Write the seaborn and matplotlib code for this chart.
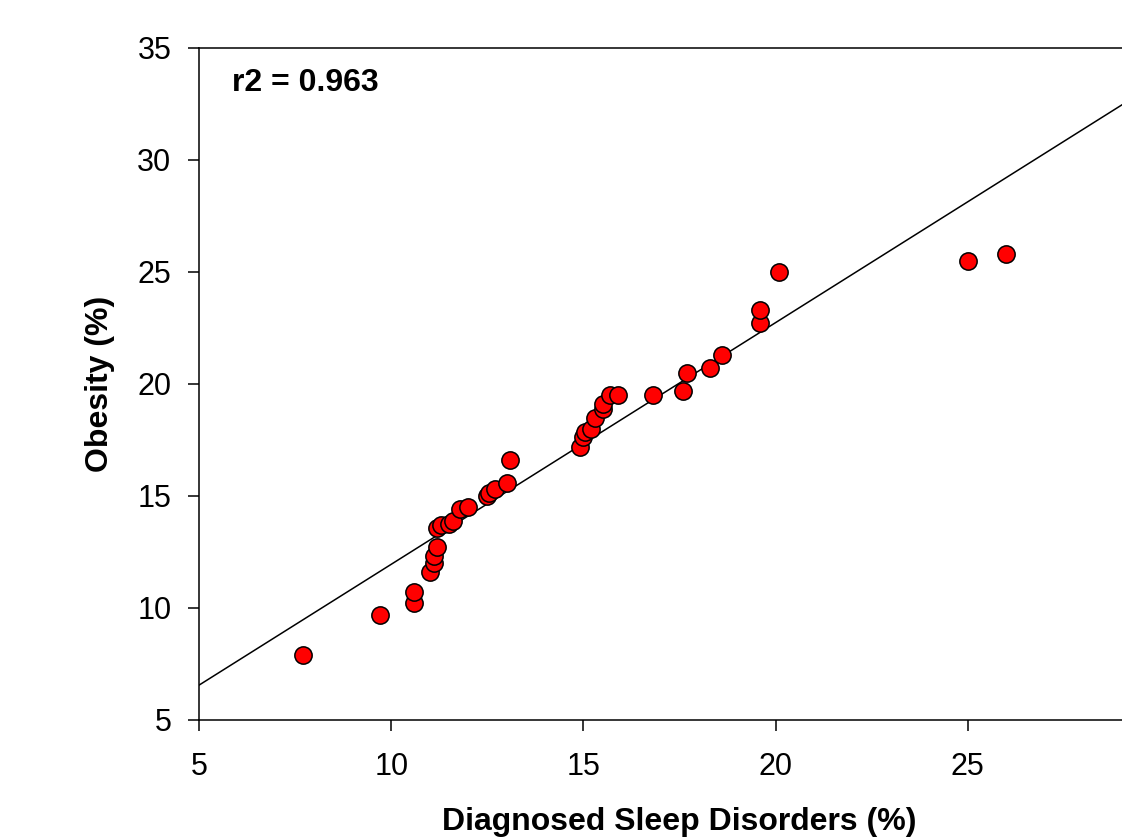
import matplotlib
matplotlib.use("Agg")
import matplotlib.pyplot as plt
import numpy as np
import pandas as pd
import seaborn as sns

sns.set_style("ticks")
plt.rcParams["font.family"] = ["Liberation Sans", "DejaVu Sans"]
plt.rcParams["text.color"] = "black"
plt.rcParams["axes.labelcolor"] = "black"
plt.rcParams["xtick.color"] = "black"
plt.rcParams["ytick.color"] = "black"

# Diagnosed sleep disorders (%) vs obesity (%)
sleep_disorders = [7.7, 9.7, 10.6, 10.6, 11.0, 11.1, 11.1, 11.2, 11.2, 11.3, 11.5, 11.6,
                   11.8, 12.0, 12.5, 12.55, 12.7, 13.0, 13.1, 14.9, 15.0, 15.05, 15.2,
                   15.3, 15.5, 15.5, 15.7, 15.9, 16.8, 17.6, 17.7, 18.3, 18.6, 19.6,
                   19.6, 20.1, 25.0, 26.0]
obesity = [7.9, 9.7, 10.2, 10.7, 11.6, 12.0, 12.3, 12.7, 13.55, 13.7, 13.75, 13.9,
           14.4, 14.5, 15.0, 15.15, 15.3, 15.6, 16.6, 17.2, 17.65, 17.85, 18.0,
           18.5, 18.9, 19.1, 19.5, 19.5, 19.5, 19.7, 20.5, 20.7, 21.3, 22.7,
           23.3, 25.0, 25.5, 25.8]
fit_slope = 1.079
fit_intercept = 1.16
r2_text = "r2 = 0.963"

df = pd.DataFrame({"sleep": sleep_disorders, "obesity": obesity})

fig = plt.figure(figsize=(11.22, 8.4), dpi=100)
ax = fig.add_axes([0.1774, 0.1429, 0.8565, 0.80])

ax.axline((0, fit_intercept), slope=fit_slope, color="black", linewidth=1.1, zorder=1)
sns.scatterplot(data=df, x="sleep", y="obesity", ax=ax, s=155, color="#ff0000",
                edgecolor="black", linewidth=1.1, zorder=3, clip_on=False)

ax.set_xlim(5, 30)
ax.set_ylim(5, 35)
ax.set_xticks([5, 10, 15, 20, 25])
ax.set_yticks([5, 10, 15, 20, 25, 30, 35])
ax.tick_params(direction="out", length=8, width=1.1, labelsize=22)
ax.tick_params(axis="x", pad=15)
ax.tick_params(axis="y", pad=12)
for side in ["left", "bottom", "top"]:
    ax.spines[side].set_visible(True)
    ax.spines[side].set_linewidth(1.1)
    ax.spines[side].set_color("black")
ax.spines["right"].set_visible(False)

ax.set_xlabel("Diagnosed Sleep Disorders (%)", fontsize=23, fontweight="bold", labelpad=18)
ax.set_ylabel("Obesity (%)", fontsize=23, fontweight="bold", labelpad=16)
ax.text(0.034, 0.948, r2_text, transform=ax.transAxes, fontsize=23,
        fontweight="bold", va="center", ha="left")

fig.savefig("out.png", dpi=100)
